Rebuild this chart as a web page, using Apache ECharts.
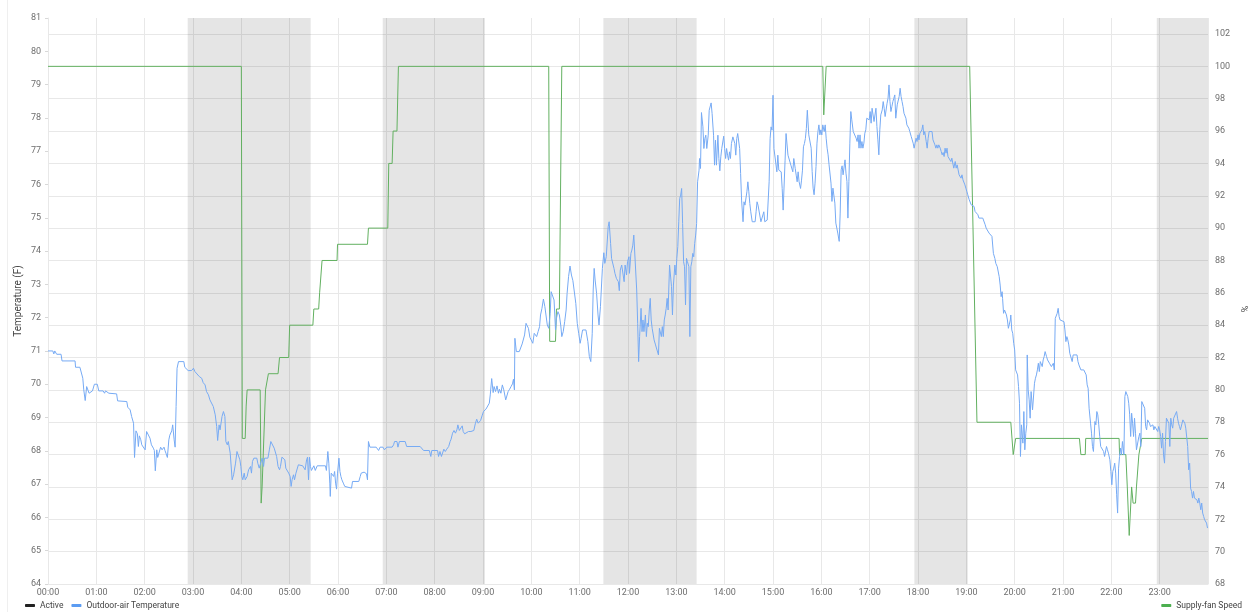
<!DOCTYPE html>
<html>
<head>
<meta charset="utf-8">
<script src="https://cdn.jsdelivr.net/npm/echarts@6/dist/echarts.min.js"></script>
<style>
  html, body { margin: 0; background: #fff; }
  #chart { width: 1250px; height: 612px; }
</style>
</head>
<body>
<div id="chart"></div>
<script>
// shaded "Active" periods, [start hour, end hour]
const activePeriods = [[2.89, 5.435], [6.925, 9.04], [11.49, 13.42], [17.925, 19.03], [22.94, 24]];

// outdoor-air temperature, [hour, degF]
const tempReadings = [
  [0, 71.0], [0.10, 71.0], [0.12, 70.91], [0.14, 71.0], [0.18, 70.9], [0.27, 70.9], [0.29, 70.7], [0.56, 70.7],
  [0.57, 70.51], [0.66, 70.51], [0.68, 70.45], [0.72, 70.18], [0.74, 69.83], [0.77, 69.51], [0.80, 69.93],
  [0.82, 69.98], [0.85, 69.73], [0.88, 69.73], [0.92, 69.8], [0.96, 70.0], [1.02, 70.0], [1.05, 69.8],
  [1.14, 69.8], [1.17, 69.73], [1.19, 69.8], [1.23, 69.8], [1.26, 69.73], [1.42, 69.71], [1.44, 69.5],
  [1.63, 69.48], [1.65, 69.31], [1.70, 69.23], [1.73, 69.03], [1.77, 68.83], [1.79, 67.8], [1.82, 68.6],
  [1.85, 68.51], [1.87, 68.13], [1.89, 68.45], [1.92, 68.33], [1.94, 68.18], [1.97, 68.15], [2.01, 68.03],
  [2.04, 68.58], [2.08, 68.6], [2.11, 68.38], [2.14, 68.18], [2.18, 68.08], [2.20, 68.01], [2.22, 67.4],
  [2.25, 68.03], [2.27, 67.8], [2.30, 67.8], [2.33, 68.11], [2.36, 68.03], [2.40, 68.11], [2.42, 68.01],
  [2.44, 67.93], [2.47, 67.8], [2.50, 68.33], [2.52, 68.47], [2.56, 68.6], [2.58, 68.78], [2.61, 68.33],
  [2.63, 68.11], [2.65, 69.33], [2.67, 70.48], [2.70, 70.68], [2.81, 70.68], [2.83, 70.51], [2.87, 70.48],
  [2.90, 70.41], [2.97, 70.41], [3.01, 70.48], [3.04, 70.38], [3.08, 70.33], [3.13, 70.23], [3.18, 70.18],
  [3.21, 70.05], [3.25, 69.98], [3.28, 69.78], [3.32, 69.68], [3.35, 69.53], [3.39, 69.48], [3.42, 69.33],
  [3.46, 69.08], [3.49, 68.73], [3.51, 68.31], [3.54, 68.78], [3.56, 68.63], [3.58, 68.63], [3.60, 69.03],
  [3.63, 69.18], [3.66, 69.03], [3.68, 68.28], [3.71, 68.18], [3.73, 68.28], [3.77, 67.93],
  [3.81, 67.13], [3.84, 67.28], [3.88, 67.63], [3.91, 67.98], [3.94, 67.93], [3.97, 67.73], [3.99, 67.53],
  [4.01, 67.23], [4.03, 67.13], [4.06, 67.33], [4.08, 67.13], [4.12, 67.23], [4.15, 67.43], [4.19, 67.53],
  [4.21, 67.33], [4.23, 67.68], [4.26, 67.78], [4.29, 67.81], [4.32, 67.78], [4.34, 67.63], [4.37, 67.48],
  [4.40, 67.43], [4.43, 67.78], [4.46, 67.53], [4.48, 67.78], [4.55, 67.78], [4.58, 68.03], [4.61, 68.28],
  [4.65, 68.28], [4.68, 68.08], [4.70, 68.03], [4.73, 67.83], [4.76, 67.53], [4.79, 67.43], [4.81, 67.53],
  [4.84, 67.81], [4.87, 67.85], [4.90, 67.73], [4.92, 67.48], [4.95, 67.48], [4.98, 67.33], [5.01, 67.23],
  [5.03, 66.93], [5.05, 67.13], [5.08, 67.28], [5.10, 67.13], [5.13, 67.33], [5.16, 67.33], [5.18, 67.58],
  [5.27, 67.55], [5.30, 67.58], [5.32, 67.43], [5.35, 67.73], [5.37, 67.81], [5.39, 67.13], [5.41, 67.81],
  [5.43, 67.53], [5.45, 67.41], [5.48, 67.41], [5.50, 67.55], [5.53, 67.41], [5.57, 67.55], [5.74, 67.55],
  [5.76, 67.41], [5.79, 67.98], [5.81, 67.63], [5.83, 67.03], [5.84, 66.63], [5.86, 67.33], [5.89, 67.38],
  [5.91, 67.23], [5.93, 67.38], [5.95, 67.03], [5.97, 66.85], [5.99, 67.33], [6.02, 67.78], [6.04, 67.38],
  [6.06, 67.23], [6.08, 67.13], [6.11, 67.03], [6.14, 66.93], [6.28, 66.88], [6.30, 67.08], [6.43, 67.08],
  [6.46, 67.23], [6.48, 67.33], [6.54, 67.36], [6.59, 67.31], [6.61, 67.13], [6.63, 68.28], [6.66, 68.11],
  [6.79, 68.11], [6.82, 68.08], [6.84, 68.01], [6.87, 68.11], [6.91, 68.08], [6.93, 68.11], [6.96, 68.03],
  [6.98, 68.01], [7.01, 68.11], [7.12, 68.11], [7.15, 68.18], [7.17, 68.28], [7.22, 68.28], [7.24, 68.11],
  [7.27, 68.28], [7.39, 68.28], [7.42, 68.13], [7.70, 68.13],
  [7.77, 68.01], [7.89, 68.01], [7.92, 67.83], [7.94, 68.01], [8.06, 68.01], [8.08, 67.83], [8.11, 67.98],
  [8.14, 67.83], [8.17, 67.83], [8.19, 68.05], [8.22, 67.98], [8.25, 68.05], [8.29, 68.13], [8.32, 68.28],
  [8.34, 68.35], [8.37, 68.53], [8.40, 68.61], [8.43, 68.53], [8.46, 68.63], [8.48, 68.78], [8.51, 68.61],
  [8.54, 68.63], [8.57, 68.75], [8.59, 68.58], [8.62, 68.51], [8.66, 68.51], [8.70, 68.58], [8.75, 68.58],
  [8.79, 68.63], [8.81, 68.61], [8.84, 68.81], [8.87, 68.95], [8.90, 68.83], [8.92, 68.81], [8.95, 68.91],
  [8.98, 69.05], [9.01, 69.18], [9.03, 69.21], [9.06, 69.25], [9.10, 69.28], [9.13, 69.43], [9.15, 69.68],
  [9.18, 70.17], [9.21, 69.75], [9.23, 69.93], [9.26, 69.78], [9.29, 69.95], [9.32, 69.73], [9.34, 69.85],
  [9.37, 69.73], [9.40, 69.98], [9.43, 69.83], [9.45, 69.85], [9.47, 69.53], [9.50, 69.51], [9.52, 69.78],
  [9.55, 69.85], [9.58, 69.93], [9.61, 70.01], [9.63, 70.15], [9.65, 69.83], [9.66, 71.38], [9.69, 70.98],
  [9.75, 70.98], [9.79, 71.01], [9.81, 71.21], [9.84, 71.18], [9.86, 71.48], [9.89, 71.83], [9.92, 71.85],
  [9.94, 71.68], [9.97, 71.41], [10.00, 71.45], [10.03, 71.23], [10.06, 71.53], [10.08, 71.58], [10.11, 71.43],
  [10.14, 71.58], [10.17, 71.73], [10.19, 72.08], [10.22, 72.28], [10.25, 72.56], [10.28, 72.33], [10.30, 72.33],
  [10.33, 71.78], [10.36, 71.68], [10.39, 72.13], [10.41, 72.78], [10.44, 72.78], [10.47, 72.53], [10.50, 71.63],
  [10.52, 71.98], [10.55, 72.18], [10.58, 72.08], [10.61, 71.75], [10.63, 71.43], [10.66, 71.58], [10.69, 71.88],
  [10.72, 72.23], [10.74, 72.73], [10.77, 73.23], [10.80, 73.55], [10.83, 73.28], [10.86, 73.11], [10.90, 73.11],
  [10.92, 72.43], [10.95, 71.83], [10.98, 71.53], [11.01, 71.23], [11.03, 71.38], [11.06, 71.63], [11.10, 71.68],
  [11.13, 71.63], [11.17, 71.28], [11.20, 70.83], [11.23, 70.68], [11.26, 71.53], [11.28, 72.83], [11.30, 73.48],
  [11.32, 73.13], [11.35, 72.73], [11.38, 72.08],
  [11.40, 71.78], [11.43, 72.33], [11.47, 73.48], [11.50, 73.95], [11.52, 73.63], [11.55, 73.83], [11.59, 74.73],
  [11.61, 74.88], [11.64, 74.23], [11.66, 73.78], [11.69, 73.73], [11.71, 73.48], [11.73, 73.33], [11.76, 73.18],
  [11.78, 73.23], [11.80, 73.08], [11.82, 72.81], [11.84, 73.43], [11.87, 73.58], [11.90, 73.53], [11.92, 73.08],
  [11.94, 73.58], [11.97, 73.28], [11.99, 73.68], [12.02, 73.83], [12.03, 73.33], [12.06, 73.93], [12.08, 74.03],
  [12.10, 74.18], [12.12, 74.48], [12.16, 74.48], [12.18, 72.83], [12.20, 71.83], [12.22, 70.68], [12.24, 71.43],
  [12.27, 72.28], [12.29, 71.58], [12.31, 71.93], [12.33, 71.58], [12.36, 72.08], [12.38, 71.43], [12.40, 71.83],
  [12.42, 71.73], [12.44, 72.23], [12.46, 72.58], [12.48, 71.93], [12.50, 71.68], [12.52, 71.68], [12.54, 71.33],
  [12.57, 71.18], [12.61, 71.18], [12.63, 70.88], [12.65, 71.68], [12.67, 71.63], [12.69, 71.43], [12.71, 71.73],
  [12.73, 71.43], [12.75, 71.93], [12.77, 72.08], [12.79, 72.28], [12.81, 72.58], [12.83, 72.23], [12.86, 73.58],
  [12.88, 73.53], [12.90, 72.93], [12.92, 72.08], [12.94, 72.98], [12.97, 73.58], [12.99, 73.28], [13.01, 73.78],
  [13.03, 74.13], [13.05, 74.88], [13.07, 75.58], [13.09, 75.68], [13.11, 75.88], [13.13, 74.83], [13.15, 73.68],
  [13.17, 73.53], [13.19, 72.38], [13.21, 73.78], [13.23, 73.68], [13.26, 73.53], [13.28, 71.43], [13.30, 73.53],
  [13.32, 73.68], [13.34, 73.93], [13.36, 73.83], [13.38, 74.23], [13.40, 74.48], [13.42, 74.83], [13.44, 76.08],
  [13.47, 76.43], [13.48, 76.78], [13.50, 76.48], [13.52, 78.16], [13.55, 77.73], [13.57, 77.08], [13.59, 77.38],
  [13.61, 77.48], [13.63, 77.08], [13.66, 77.48], [13.68, 78.23], [13.70, 78.25], [13.72, 78.45], [13.74, 78.13],
  [13.77, 77.48], [13.79, 76.58], [13.81, 77.33], [13.83, 76.58], [13.86, 77.48], [13.88, 76.78], [13.90, 76.41],
  [13.92, 76.83], [13.94, 77.08], [13.96, 77.08], [13.98, 77.45], [14.00, 77.08], [14.02, 76.78], [14.04, 77.08],
  [14.06, 76.88], [14.08, 76.73], [14.10, 76.98], [14.12, 76.78], [14.14, 77.23], [14.17, 77.43], [14.19, 77.48],
  [14.21, 77.23], [14.23, 76.88], [14.25, 77.38], [14.27, 77.53], [14.29, 77.58], [14.31, 77.08], [14.33, 76.33],
  [14.35, 75.53], [14.38, 74.88], [14.40, 75.48], [14.42, 75.38], [14.44, 75.43], [14.46, 75.78], [14.48, 76.08],
  [14.50, 75.78], [14.52, 75.43], [14.54, 75.18], [14.57, 74.88], [14.63, 74.88], [14.65, 75.18], [14.67, 75.48],
  [14.69, 75.38], [14.73, 75.38], [14.75, 74.88], [14.79, 74.88], [14.81, 75.18], [14.83, 74.88], [14.88, 74.93],
  [14.90, 74.98], [14.92, 76.08], [14.94, 77.38], [14.96, 77.73], [14.98, 77.63], [15.00, 78.68], [15.02, 77.08],
  [15.04, 77.08], [15.06, 77.03], [15.08, 76.38], [15.10, 76.88], [15.12, 76.43], [15.17, 76.38], [15.19, 75.88],
  [15.21, 75.23], [15.23, 75.18], [15.25, 76.73], [15.27, 77.53], [15.29, 77.58], [15.31, 76.88], [15.35, 76.88],
  [15.37, 76.58], [15.39, 76.53], [15.41, 76.38], [15.43, 76.78], [15.46, 76.48], [15.48, 76.28], [15.50, 76.08],
  [15.52, 76.38], [15.54, 76.08], [15.57, 75.88], [15.59, 76.13], [15.61, 76.43], [15.63, 77.13], [15.65, 77.23],
  [15.67, 77.38], [15.69, 77.68], [15.71, 78.23], [15.73, 78.28],
  [15.74, 77.49], [15.77, 77.49], [15.79, 77.09], [15.81, 76.39], [15.83, 75.89], [15.85, 75.69], [15.87, 76.04],
  [15.89, 76.54], [15.91, 77.24], [15.93, 77.59], [15.95, 77.79], [15.97, 77.49], [15.99, 77.64], [16.01, 77.49],
  [16.03, 77.79], [16.06, 77.59], [16.08, 77.79], [16.10, 77.39], [16.12, 77.09], [16.14, 76.89], [16.16, 76.59],
  [16.18, 76.54], [16.20, 76.04], [16.22, 75.49], [16.24, 75.89], [16.26, 75.84], [16.28, 75.44], [16.30, 74.84],
  [16.32, 74.69], [16.34, 74.54], [16.37, 74.29], [16.39, 75.14], [16.41, 76.44], [16.43, 76.56], [16.45, 76.29],
  [16.47, 76.34], [16.49, 76.74], [16.51, 76.34], [16.53, 76.09], [16.55, 74.99], [16.57, 76.09], [16.59, 77.24],
  [16.61, 78.19], [16.63, 77.94], [16.66, 77.59], [16.68, 77.54], [16.70, 77.59], [16.72, 77.39], [16.74, 77.29],
  [16.76, 77.49], [16.78, 77.09], [16.80, 77.49], [16.82, 77.09], [16.84, 77.29], [16.86, 77.09], [16.88, 77.24],
  [16.90, 77.54], [16.92, 77.64], [16.94, 77.99], [16.97, 78.04], [16.99, 77.94], [17.01, 78.19], [17.03, 77.84],
  [17.05, 78.29], [17.07, 78.24], [17.09, 77.89], [17.11, 77.84], [17.13, 78.29], [17.15, 77.74], [17.17, 77.34],
  [17.19, 76.89], [17.21, 77.64], [17.23, 78.09], [17.26, 78.24], [17.28, 78.49], [17.30, 78.29], [17.32, 78.04],
  [17.34, 78.09], [17.36, 78.44], [17.38, 78.59], [17.40, 78.99], [17.42, 78.49], [17.44, 78.19], [17.46, 78.34],
  [17.48, 78.49], [17.50, 78.59], [17.52, 78.69], [17.54, 77.99], [17.57, 78.39], [17.59, 78.34], [17.61, 78.64],
  [17.63, 78.89], [17.65, 78.64], [17.67, 78.49], [17.69, 78.34], [17.71, 78.14], [17.73, 78.16], [17.75, 77.99],
  [17.77, 77.79], [17.79, 77.79], [17.81, 77.69], [17.83, 77.59], [17.86, 77.44], [17.88, 77.34], [17.90, 77.24],
  [17.92, 77.09], [17.94, 77.24], [17.96, 77.39], [17.98, 77.29], [18.00, 77.49], [18.02, 77.34], [18.04, 77.54],
  [18.06, 77.56], [18.08, 77.64], [18.10, 77.79], [18.12, 77.49], [18.14, 77.59], [18.17, 77.29], [18.19, 77.09],
  [18.21, 77.39], [18.23, 77.59], [18.29, 77.59], [18.31, 77.34], [18.33, 77.29], [18.35, 77.19], [18.37, 77.09],
  [18.39, 77.19], [18.41, 77.09], [18.43, 77.19], [18.46, 77.09], [18.48, 76.99], [18.50, 76.89], [18.52, 76.96],
  [18.54, 76.84], [18.56, 77.09], [18.58, 76.94], [18.60, 77.09], [18.62, 76.84], [18.64, 76.89], [18.66, 76.79],
  [18.68, 76.69], [18.70, 76.79], [18.72, 76.74], [18.74, 76.49], [18.77, 76.69], [18.79, 76.49], [18.81, 76.59],
  [18.83, 76.44], [18.85, 76.29], [18.87, 76.34], [18.89, 76.19], [18.91, 76.29], [18.93, 76.14], [18.95, 76.09],
  [18.97, 75.99], [18.99, 75.89], [19.01, 75.79], [19.03, 75.69], [19.06, 75.54], [19.08, 75.59], [19.10, 75.39],
  [19.12, 75.34], [19.14, 75.39], [19.16, 75.34], [19.18, 75.19], [19.22, 75.19], [19.24, 75.09], [19.26, 74.99],
  [19.34, 74.99], [19.37, 74.94], [19.39, 74.79], [19.41, 74.69], [19.45, 74.69], [19.47, 74.54], [19.50, 74.49],
  [19.53, 74.44],
  [19.56, 73.93], [19.59, 73.78], [19.61, 73.63], [19.64, 73.53], [19.66, 73.48], [19.68, 73.23], [19.70, 72.98],
  [19.72, 72.63], [19.74, 72.78], [19.75, 72.58], [19.77, 72.13], [19.79, 72.23], [19.81, 72.28], [19.83, 72.08],
  [19.85, 71.93], [19.87, 71.68], [19.89, 71.68], [19.91, 71.93], [19.92, 72.08], [19.94, 71.63], [19.96, 71.53],
  [19.98, 71.23], [20.00, 71.03], [20.02, 70.43], [20.04, 70.38], [20.06, 70.28], [20.08, 69.93], [20.10, 69.43],
  [20.12, 67.83], [20.14, 68.78], [20.17, 68.23], [20.19, 69.18], [20.21, 68.03], [20.23, 68.53], [20.25, 68.78],
  [20.26, 70.88], [20.28, 69.83], [20.30, 69.53], [20.32, 68.98], [20.34, 69.78], [20.37, 69.23], [20.39, 69.23],
  [20.41, 70.03], [20.43, 70.18], [20.45, 70.28], [20.47, 70.43], [20.49, 70.63], [20.51, 70.38], [20.53, 70.68],
  [20.55, 70.68], [20.57, 70.53], [20.59, 70.73], [20.61, 70.83], [20.63, 70.98], [20.66, 70.83], [20.68, 70.73],
  [20.70, 70.78], [20.72, 70.63], [20.74, 70.68], [20.76, 70.53], [20.78, 70.48], [20.80, 70.63], [20.82, 70.43],
  [20.84, 71.98], [20.86, 72.03], [20.88, 72.13], [20.90, 72.28], [20.92, 72.03], [20.94, 71.93], [20.98, 71.88],
  [21.02, 71.88], [21.04, 71.63], [21.06, 71.28], [21.08, 71.43], [21.10, 71.33], [21.12, 71.18], [21.14, 70.93],
  [21.17, 70.98], [21.19, 70.68], [21.21, 70.88], [21.29, 70.88], [21.31, 70.68], [21.33, 70.58], [21.35, 70.53],
  [21.37, 70.43], [21.43, 70.43], [21.46, 70.38], [21.48, 70.28], [21.50, 69.98], [21.52, 69.88], [21.54, 69.28],
  [21.55, 69.23], [21.57, 68.83], [21.59, 68.53], [21.61, 68.13], [21.63, 67.98], [21.66, 68.88], [21.68, 68.78],
  [21.70, 69.18], [21.72, 69.08], [21.74, 68.78], [21.76, 68.43], [21.78, 68.13], [21.80, 68.13], [21.82, 68.18],
  [21.84, 67.98], [21.86, 67.83], [21.88, 67.83], [21.90, 68.13], [21.92, 68.03], [21.94, 67.93], [21.97, 67.73],
  [21.99, 67.38], [22.01, 66.98], [22.03, 67.38], [22.05, 67.48], [22.07, 67.63], [22.09, 67.33], [22.11, 66.68],
  [22.13, 66.13], [22.15, 67.48], [22.17, 67.83], [22.19, 68.08], [22.21, 67.88], [22.23, 68.28], [22.26, 67.88],
  [22.28, 69.63], [22.30, 69.78], [22.32, 69.73], [22.34, 69.63], [22.36, 69.43], [22.38, 69.08], [22.40, 68.43],
  [22.42, 69.13], [22.44, 68.83], [22.46, 68.43], [22.48, 68.98], [22.50, 68.53], [22.52, 68.03], [22.54, 68.03],
  [22.57, 68.43], [22.59, 68.53], [22.61, 68.13], [22.63, 69.48], [22.65, 69.53], [22.67, 69.48], [22.69, 69.28],
  [22.71, 68.73], [22.73, 68.63], [22.75, 68.93], [22.77, 68.98], [22.79, 68.83], [22.81, 68.73], [22.83, 68.68],
  [22.86, 68.78], [22.88, 68.63], [22.90, 68.73], [22.92, 68.78], [22.94, 68.68], [22.96, 68.58], [22.98, 68.73],
  [23.00, 68.63], [23.02, 68.43], [23.04, 68.08], [23.06, 68.53], [23.08, 67.88], [23.10, 67.63], [23.12, 68.28],
  [23.14, 68.98], [23.17, 68.98], [23.19, 68.83], [23.21, 68.13], [23.23, 68.98], [23.25, 68.78], [23.27, 68.68],
  [23.29, 68.98], [23.33, 69.03], [23.35, 69.18], [23.37, 68.98], [23.39, 68.83], [23.41, 68.73], [23.43, 68.63],
  [23.46, 68.58], [23.48, 68.93], [23.50, 68.98], [23.52, 68.83], [23.54, 68.68], [23.56, 68.63], [23.58, 68.13],
  [23.60, 67.43], [23.62, 67.63], [23.64, 66.88], [23.66, 66.78], [23.68, 66.58], [23.70, 66.78], [23.72, 66.58],
  [23.77, 66.53], [23.79, 66.43], [23.81, 66.58], [23.83, 66.43], [23.85, 66.23], [23.87, 66.43], [23.89, 66.13],
  [23.91, 66.03], [23.93, 65.93], [23.97, 65.83], [23.99, 65.68]
];

// supply-fan speed, [hour, %]
const fanReadings = [
  [0, 100], [4.00, 100], [4.02, 77], [4.08, 77], [4.10, 79], [4.12, 80], [4.39, 80], [4.41, 73], [4.43, 74],
  [4.46, 74], [4.50, 80], [4.54, 80], [4.56, 81], [4.76, 81], [4.79, 82], [4.98, 82], [5.00, 84], [5.48, 84],
  [5.50, 85], [5.60, 85], [5.62, 86], [5.65, 86], [5.67, 88], [5.98, 88], [5.99, 89], [6.61, 89], [6.63, 90],
  [7.03, 90], [7.05, 94], [7.12, 94], [7.14, 96], [7.22, 96], [7.25, 100], [10.36, 100], [10.38, 83],
  [10.50, 83], [10.52, 85], [10.58, 85], [10.63, 100], [16.03, 100], [16.05, 97], [16.07, 97], [16.10, 100],
  [19.07, 100], [19.22, 78], [19.92, 78], [19.97, 76], [20.01, 76], [20.02, 77], [21.34, 77], [21.37, 76],
  [21.46, 76], [21.47, 77], [22.16, 77], [22.17, 76], [22.30, 76], [22.33, 74], [22.37, 71], [22.40, 71],
  [22.42, 74], [22.45, 73], [22.50, 73], [22.52, 74], [22.56, 74], [22.57, 76], [22.63, 77], [24, 77]
];

const tempTicks = { min: 64, max: 81, step: 1 };
const fanTicks = { min: 68, max: 102, step: 2 };

const FONT = 'Roboto, "Noto Sans", sans-serif';
const labelColor = '#6e6e6e';
const gridColor = '#e8e8e8';

const chart = echarts.init(document.getElementById('chart'));

const option = {
  animation: false,
  textStyle: { fontFamily: FONT },
  grid: [
    { left: 48, right: 42, top: 18, bottom: 28, outerBoundsMode: 'none' },
    { left: 48, right: 42, top: 34, bottom: 28, outerBoundsMode: 'none' }
  ],
  xAxis: [
    {
      type: 'value', gridIndex: 0, min: 0, max: 24, interval: 1,
      axisLine: { lineStyle: { color: gridColor } },
      axisTick: { show: false },
      splitLine: { show: true, lineStyle: { color: gridColor } },
      axisLabel: {
        color: labelColor, fontSize: 9, margin: 4, showMaxLabel: false,
        formatter: (v) => v >= 24 ? '' : String(v).padStart(2, '0') + ':00'
      }
    },
    { type: 'value', gridIndex: 1, min: 0, max: 24, show: false }
  ],
  yAxis: [
    {
      type: 'value', gridIndex: 0, position: 'left',
      min: tempTicks.min, max: tempTicks.max, interval: tempTicks.step,
      name: 'Temperature (F)', nameLocation: 'middle', nameGap: 25, nameMoveOverlap: false,
      nameTextStyle: { color: '#444', fontSize: 10 },
      axisLine: { show: true, lineStyle: { color: gridColor } },
      axisTick: { show: true, length: 3, lineStyle: { color: '#d8d8d8' } },
      splitLine: { show: false },
      axisLabel: { color: labelColor, fontSize: 9, margin: 7 }
    },
    {
      type: 'value', gridIndex: 1, position: 'right',
      min: fanTicks.min, max: fanTicks.max, interval: fanTicks.step,
      name: '%', nameLocation: 'middle', nameGap: 26,
      nameTextStyle: { color: '#444', fontSize: 9 },
      axisLine: { show: false },
      axisTick: { show: true, length: 3, lineStyle: { color: gridColor } },
      splitLine: { show: true, lineStyle: { color: gridColor } },
      axisLabel: { color: labelColor, fontSize: 9, margin: 7 }
    }
  ],
  legend: [
    {
      data: ['Active', 'Outdoor-air Temperature'],
      left: 25, top: 601, padding: 0, itemGap: 8,
      itemWidth: 10, itemHeight: 3, icon: 'roundRect',
      textStyle: { color: '#444', fontSize: 8.5, fontFamily: FONT }
    },
    {
      data: ['Supply-fan Speed'],
      right: 8, top: 601, padding: 0,
      itemWidth: 10, itemHeight: 3, icon: 'roundRect',
      textStyle: { color: '#444', fontSize: 8.5, fontFamily: FONT }
    }
  ],
  series: [
    {
      name: 'Active', type: 'line', xAxisIndex: 0, yAxisIndex: 0, z: 1,
      color: '#222', data: [],
      markArea: {
        silent: true,
        itemStyle: { color: 'rgba(0,0,0,0.1)' },
        data: activePeriods.map(([a, b]) => [{ xAxis: a }, { xAxis: b }])
      }
    },
    {
      name: 'Outdoor-air Temperature', type: 'line', xAxisIndex: 0, yAxisIndex: 0, z: 3,
      color: '#5b9cf2', showSymbol: false,
      lineStyle: { width: 1, color: '#76aaf4' },
      data: tempReadings
    },
    {
      name: 'Supply-fan Speed', type: 'line', xAxisIndex: 1, yAxisIndex: 1, z: 2,
      color: '#4caf50', showSymbol: false,
      lineStyle: { width: 1, color: '#62b060' },
      data: fanReadings
    }
  ],
  graphic: [
    { type: 'line', shape: { x1: 7.5, y1: 0, x2: 7.5, y2: 612 }, style: { stroke: '#efefef', lineWidth: 1 } }
  ]
};

chart.setOption(option);
</script>
</body>
</html>
